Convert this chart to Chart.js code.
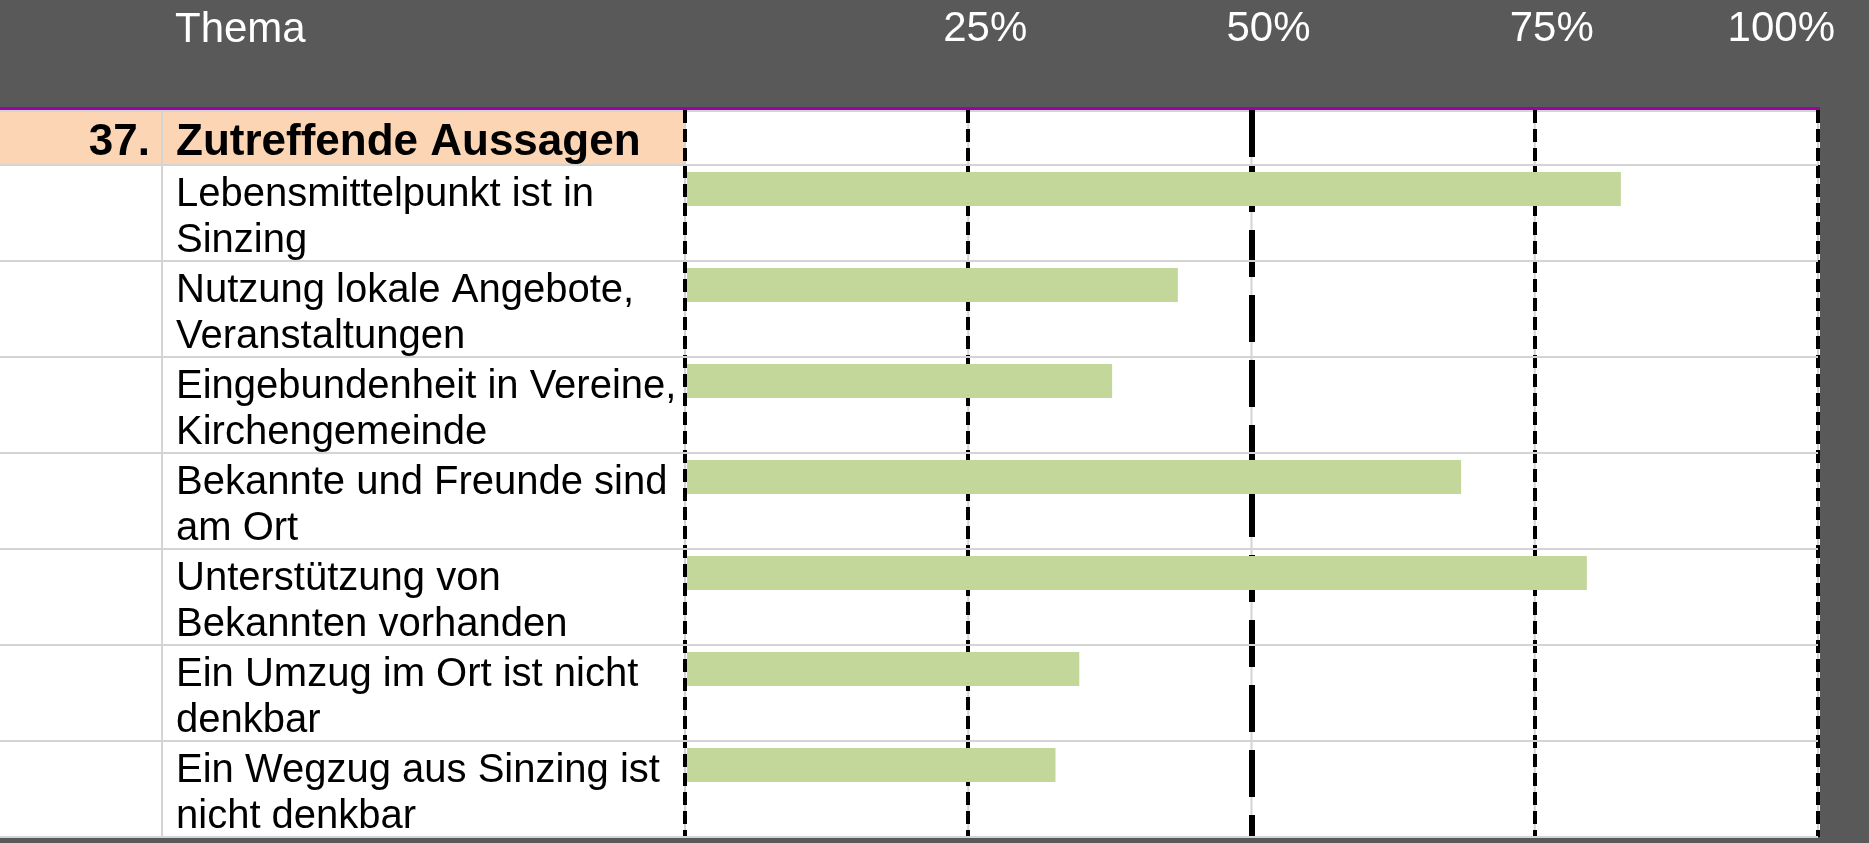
<!DOCTYPE html>
<html>
<head>
<meta charset="utf-8">
<script src="https://cdn.jsdelivr.net/npm/chart.js@4"></script>
<style>
  html, body { margin: 0; padding: 0; background: #595959; }
  canvas { display: block; }
</style>
</head>
<body>
<canvas id="myChart" width="1869" height="843"></canvas>
<script>
// Data
const columnTitle = "Thema";
const sectionNumber = "37.";
const sectionTitle = "Zutreffende Aussagen";
const statements = [
  ["Lebensmittelpunkt ist in", "Sinzing"],
  ["Nutzung lokale Angebote,", "Veranstaltungen"],
  ["Eingebundenheit in Vereine,", "Kirchengemeinde"],
  ["Bekannte und Freunde sind", "am Ort"],
  ["Unterstützung von", "Bekannten vorhanden"],
  ["Ein Umzug im Ort ist nicht", "denkbar"],
  ["Ein Wegzug aus Sinzing ist", "nicht denkbar"]
];
const shares = [82.6, 43.5, 37.7, 68.5, 79.6, 34.8, 32.7];
// empty second slot keeps each bar in the upper half of its row
const spacer = [null, null, null, null, null, null, null];
const tickValues = [0, 25, 50, 75, 100];
const tickLabels = ["", "25%", "50%", "75%", "100%"];

const FONT = '"Liberation Sans", Arial, sans-serif';
const HEAD_ROW = 55;

// table background, header row and titles
const tablePlugin = {
  id: "table",
  beforeDraw(chart) {
    const ctx = chart.ctx;
    const area = chart.chartArea;
    const xs = chart.scales.x;
    const top = area.top - HEAD_ROW;
    ctx.save();
    ctx.fillStyle = "#595959";
    ctx.fillRect(0, 0, chart.width, chart.height);
    ctx.fillStyle = "#ffffff";
    ctx.fillRect(0, top, area.right + 2, area.bottom - top);
    ctx.fillStyle = "#fcd5b4";
    ctx.fillRect(0, top, area.left, HEAD_ROW);
    ctx.fillStyle = "#a000a8";
    ctx.fillRect(0, top - 3, area.right + 2, 3);

    // cell borders
    ctx.strokeStyle = "#d4d4d4";
    ctx.lineWidth = 2;
    ctx.beginPath();
    ctx.moveTo(162, top);
    ctx.lineTo(162, area.bottom);
    tickValues.forEach(function (v) {
      const px = xs.getPixelForValue(v);
      ctx.moveTo(px, top);
      ctx.lineTo(px, area.bottom);
    });
    ctx.moveTo(0, top + 1);
    ctx.lineTo(area.right + 2, top + 1);
    ctx.stroke();

    ctx.fillStyle = "#ffffff";
    ctx.font = "42px " + FONT;
    ctx.textBaseline = "alphabetic";
    ctx.textAlign = "left";
    ctx.fillText(columnTitle, 175, 42);

    ctx.fillStyle = "#000000";
    ctx.font = "bold 44px " + FONT;
    ctx.textAlign = "right";
    ctx.fillText(sectionNumber, 150, area.top - 10);
    ctx.textAlign = "left";
    ctx.fillText(sectionTitle, 176, area.top - 10);
    ctx.restore();
  }
};

function isHalf(c) {
  return c.tick && c.tick.value === 50;
}

var ctx = document.getElementById("myChart").getContext("2d");
var myChart = new Chart(ctx, {
  type: "bar",
  data: {
    labels: statements,
    datasets: [
      {
        data: shares,
        backgroundColor: "#c4d79b",
        categoryPercentage: 1,
        barPercentage: 0.71
      },
      {
        data: spacer,
        categoryPercentage: 1,
        barPercentage: 0.71
      }
    ]
  },
  options: {
    indexAxis: "y",
    responsive: false,
    animation: false,
    layout: {
      padding: { left: 176, right: 51, top: 0, bottom: 6 }
    },
    plugins: {
      legend: { display: false },
      tooltip: { enabled: false }
    },
    scales: {
      x: {
        type: "linear",
        position: "top",
        min: 0,
        max: 100,
        z: 1,
        afterBuildTicks: function (s) {
          s.ticks = tickValues.map(function (v) { return { value: v }; });
        },
        afterFit: function (s) {
          s.height = 165;
          s.paddingLeft = 0;
          s.paddingRight = 0;
        },
        ticks: {
          color: "#ffffff",
          font: { family: FONT, size: 42 },
          padding: 55,
          labelOffset: 17,
          align: "inner",
          maxRotation: 0,
          autoSkip: false,
          callback: function (v, i) {
            return tickLabels[i];
          }
        },
        grid: {
          color: "#000000",
          lineWidth: function (c) { return isHalf(c) ? 6 : 4; },
          tickLength: HEAD_ROW,
          tickColor: "#000000",
          tickWidth: function (c) { return isHalf(c) ? 6 : 4; },
          tickBorderDash: function (c) { return isHalf(c) ? [47, 18] : [13, 6]; }
        },
        border: {
          display: false,
          dash: function (c) { return isHalf(c) ? [47, 18] : [13, 6]; }
        }
      },
      y: {
        afterFit: function (s) {
          s.width = 509;
          s.paddingTop = 0;
          s.paddingBottom = 0;
        },
        ticks: {
          color: "#000000",
          font: { family: FONT, size: 40, lineHeight: 1.13 },
          crossAlign: "far",
          padding: 0,
          labelOffset: 5,
          autoSkip: false
        },
        grid: {
          color: "#d4d4d4",
          lineWidth: 2,
          tickLength: 685,
          tickColor: "#d4d4d4",
          tickWidth: 2
        },
        border: { display: false }
      }
    }
  },
  plugins: [tablePlugin]
});
</script>
</body>
</html>
